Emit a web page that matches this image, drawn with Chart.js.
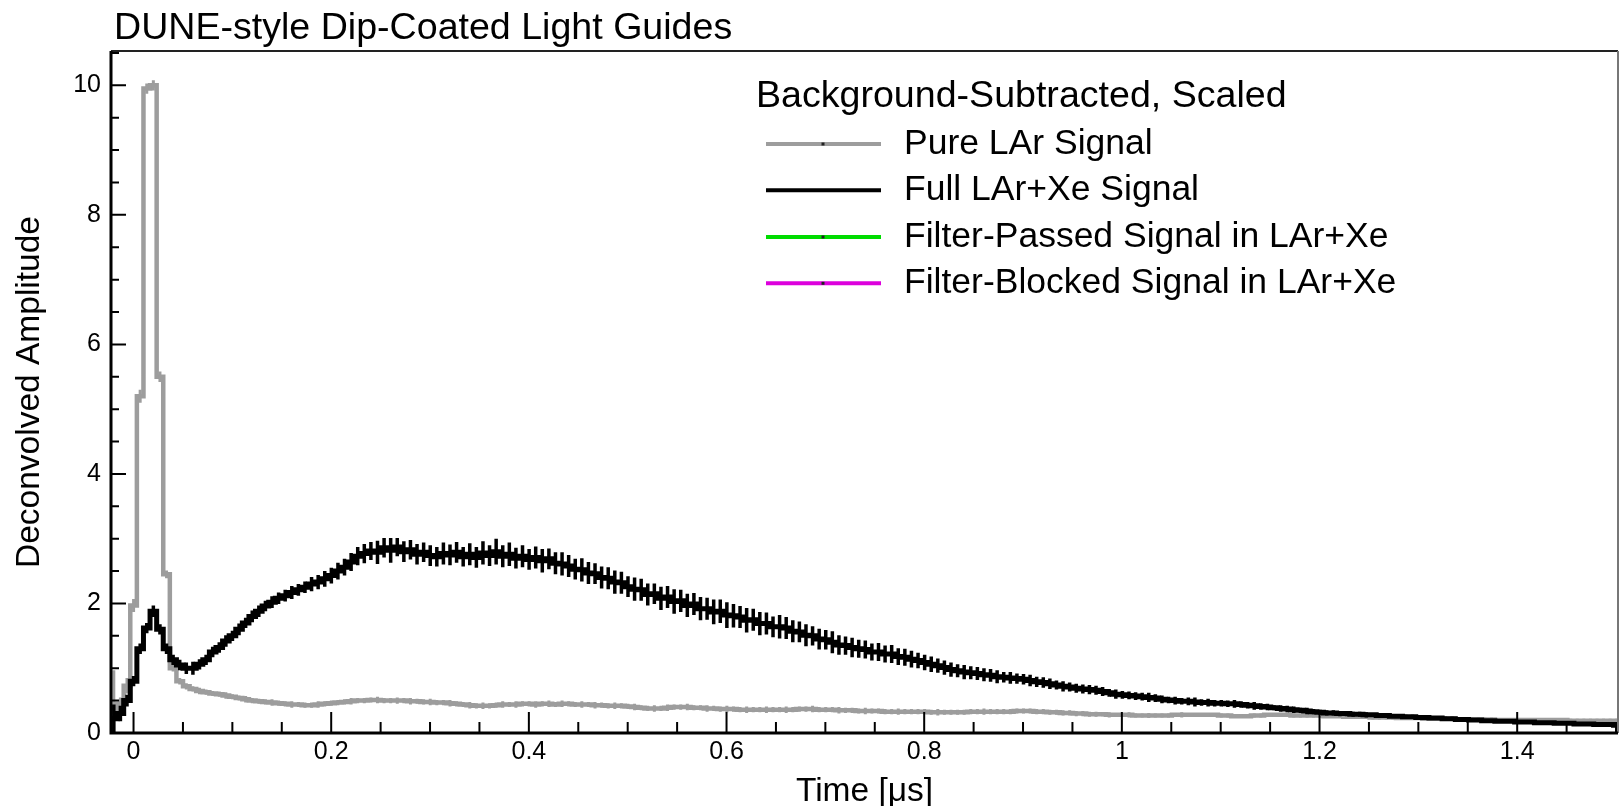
<!DOCTYPE html>
<html><head><meta charset="utf-8">
<script src="https://cdn.jsdelivr.net/npm/chart.js@4.4.1/dist/chart.umd.min.js"></script>
<style>html,body{margin:0;padding:0;background:#fff;}canvas{display:block;}</style>
</head><body>
<canvas id="c" width="1619" height="806" style="width:1619px;height:806px"></canvas>
<script>
// ---------------- data ----------------
const chartTitle = 'DUNE-style Dip-Coated Light Guides';
const legendHeader = 'Background-Subtracted, Scaled';
const xAxisTitle = 'Time [\u03bcs]';
const yAxisTitle = 'Deconvolved Amplitude';
const seriesLabels = ['Pure LAr Signal', 'Full LAr+Xe Signal', 'Filter-Passed Signal in LAr+Xe', 'Filter-Blocked Signal in LAr+Xe'];
const xTickValues = [0, 0.2, 0.4, 0.6, 0.8, 1, 1.2, 1.4];
const yTickValues = [0, 2, 4, 6, 8, 10];
const binLow = -0.0233;      // low edge of first bin [us]
const binWidth = 0.00667;    // bin width [us]

const grayValues = [
0.35,0.45,0.73,1.97,5.20,9.95,10.00,5.50,2.45,1.00,0.80,0.72,0.68,0.65,0.63,
0.61,0.60,0.58,0.56,0.54,0.52,0.50,0.49,0.48,0.47,0.46,0.45,0.44,0.44,0.43,
0.43,0.44,0.45,0.46,0.47,0.48,0.49,0.50,0.50,0.51,0.51,0.50,0.50,0.50,0.50,
0.49,0.49,0.48,0.48,0.47,0.47,0.46,0.45,0.44,0.43,0.42,0.42,0.42,0.43,0.44,
0.44,0.44,0.45,0.45,0.44,0.45,0.45,0.44,0.45,0.45,0.44,0.44,0.44,0.43,0.43,
0.42,0.42,0.42,0.41,0.40,0.39,0.38,0.38,0.38,0.39,0.40,0.40,0.40,0.39,0.39,
0.38,0.38,0.37,0.37,0.37,0.36,0.36,0.36,0.36,0.36,0.36,0.36,0.36,0.36,0.37,
0.37,0.37,0.36,0.36,0.36,0.35,0.35,0.35,0.34,0.34,0.34,0.34,0.33,0.33,0.33,
0.33,0.33,0.33,0.33,0.32,0.32,0.32,0.32,0.32,0.32,0.33,0.33,0.33,0.33,0.33,
0.33,0.33,0.34,0.34,0.34,0.33,0.33,0.32,0.32,0.31,0.31,0.30,0.30,0.29,0.29,
0.29,0.28,0.28,0.28,0.28,0.27,0.27,0.27,0.27,0.27,0.27,0.28,0.28,0.28,0.28,
0.28,0.28,0.28,0.27,0.27,0.26,0.26,0.26,0.27,0.27,0.28,0.28,0.28,0.28,0.27,
0.27,0.27,0.27,0.27,0.26,0.26,0.26,0.25,0.25,0.25,0.25,0.24,0.24,0.24,0.24,
0.23,0.23,0.23,0.23,0.22,0.22,0.22,0.22,0.22,0.21,0.21,0.21,0.21,0.21,0.21,
0.20,0.20,0.20,0.20,0.20,0.20,0.20,0.20,0.20,0.20,0.20,0.19,0.19,0.19,0.19,
0.19,0.19,0.19,0.19
];
const grayErrors = [
0.62,0.10,0.12,0.10,0.10,0.08,0.08,0.08,0.06,0.05,0.05,0.05,0.04,0.05,0.04,
0.04,0.04,0.05,0.04,0.04,0.05,0.04,0.04,0.04,0.05,0.04,0.04,0.05,0.04,0.04,
0.04,0.05,0.04,0.04,0.04,0.04,0.05,0.04,0.04,0.04,0.05,0.04,0.04,0.05,0.04,
0.05,0.04,0.04,0.05,0.04,0.04,0.05,0.04,0.04,0.05,0.04,0.05,0.04,0.04,0.05,
0.04,0.05,0.04,0.04,0.05,0.04,0.05,0.04,0.05,0.04,0.04,0.05,0.04,0.05,0.04,
0.04,0.05,0.04,0.04,0.05,0.04,0.04,0.05,0.04,0.05,0.04,0.04,0.05,0.04,0.04,
0.05,0.04,0.04,0.05,0.04,0.04,0.05,0.04,0.04,0.05,0.04,0.04,0.05,0.04,0.04,
0.04,0.05,0.04,0.04,0.04,0.05,0.04,0.04,0.04,0.05,0.04,0.04,0.04,0.04,0.05,
0.04,0.04,0.04,0.04,0.04,0.05,0.04,0.04,0.04,0.04,0.04,0.04,0.05,0.04,0.04,
0.04,0.04,0.04,0.04,0.04,0.04,0.04,0.04,0.04,0.04,0.04,0.04,0.04,0.04,0.04,
0.03,0.04,0.03,0.03,0.04,0.03,0.03,0.04,0.03,0.03,0.03,0.03,0.04,0.03,0.03,
0.03,0.03,0.03,0.03,0.03,0.03,0.03,0.03,0.03,0.03,0.03,0.03,0.03,0.03,0.03,
0.03,0.03,0.03,0.03,0.03,0.03,0.03,0.03,0.03,0.03,0.03,0.03,0.03,0.03,0.03,
0.03,0.03,0.03,0.03,0.03,0.03,0.03,0.03,0.03,0.03,0.03,0.03,0.03,0.03,0.03,
0.03,0.03,0.03,0.03,0.03,0.03,0.03,0.03,0.03,0.03,0.03,0.03,0.03,0.03,0.03,
0.03,0.03,0.03,0.03
];
const blackValues = [
0.22,0.30,0.50,0.80,1.30,1.62,1.88,1.60,1.30,1.13,1.05,1.00,1.00,1.06,1.13,
1.25,1.32,1.42,1.50,1.60,1.70,1.80,1.88,1.96,2.02,2.08,2.12,2.17,2.21,2.25,
2.30,2.33,2.38,2.43,2.50,2.56,2.64,2.73,2.77,2.81,2.79,2.86,2.82,2.87,2.80,
2.83,2.76,2.79,2.74,2.72,2.77,2.75,2.79,2.72,2.76,2.71,2.78,2.74,2.80,2.73,
2.76,2.70,2.73,2.68,2.71,2.66,2.69,2.62,2.61,2.58,2.53,2.52,2.47,2.46,2.40,
2.39,2.33,2.32,2.26,2.22,2.21,2.14,2.15,2.08,2.10,2.03,2.04,1.97,1.99,1.92,
1.92,1.87,1.88,1.82,1.81,1.79,1.74,1.75,1.69,1.69,1.64,1.64,1.62,1.57,1.56,
1.51,1.50,1.45,1.44,1.40,1.36,1.35,1.32,1.30,1.29,1.25,1.25,1.22,1.22,1.18,
1.17,1.14,1.12,1.09,1.06,1.04,1.01,0.98,0.96,0.94,0.93,0.92,0.90,0.89,0.87,
0.86,0.85,0.84,0.83,0.81,0.79,0.78,0.76,0.74,0.72,0.71,0.69,0.68,0.67,0.66,
0.64,0.62,0.60,0.59,0.58,0.57,0.56,0.55,0.54,0.52,0.51,0.50,0.49,0.49,0.48,
0.47,0.47,0.46,0.46,0.45,0.45,0.44,0.43,0.42,0.41,0.40,0.39,0.38,0.37,0.36,
0.35,0.34,0.33,0.32,0.31,0.31,0.30,0.30,0.29,0.29,0.28,0.28,0.27,0.27,0.26,
0.26,0.25,0.25,0.24,0.24,0.23,0.23,0.22,0.22,0.21,0.21,0.20,0.20,0.19,0.19,
0.18,0.18,0.18,0.17,0.17,0.17,0.16,0.16,0.16,0.15,0.15,0.15,0.14,0.14,0.14,
0.13,0.13,0.13,0.12
];
const blackErrors = [
0.22,0.12,0.09,0.08,0.08,0.08,0.09,0.08,0.08,0.08,0.08,0.09,0.10,0.08,0.08,
0.08,0.08,0.09,0.08,0.09,0.08,0.09,0.09,0.08,0.09,0.09,0.09,0.10,0.09,0.09,
0.11,0.11,0.12,0.12,0.13,0.13,0.14,0.14,0.15,0.14,0.18,0.15,0.19,0.14,0.16,
0.15,0.16,0.15,0.16,0.15,0.17,0.16,0.16,0.15,0.17,0.16,0.18,0.16,0.20,0.17,
0.18,0.16,0.17,0.16,0.17,0.18,0.16,0.17,0.18,0.17,0.16,0.18,0.17,0.16,0.17,
0.17,0.18,0.17,0.16,0.18,0.17,0.17,0.16,0.18,0.17,0.19,0.17,0.18,0.17,0.18,
0.17,0.19,0.18,0.20,0.18,0.17,0.19,0.17,0.18,0.17,0.16,0.18,0.17,0.17,0.16,
0.17,0.15,0.16,0.15,0.17,0.15,0.14,0.15,0.14,0.14,0.13,0.14,0.13,0.14,0.13,
0.13,0.13,0.12,0.12,0.12,0.11,0.11,0.11,0.10,0.11,0.10,0.10,0.10,0.10,0.10,
0.08,0.09,0.08,0.08,0.09,0.08,0.08,0.08,0.07,0.08,0.07,0.07,0.07,0.07,0.07,
0.07,0.06,0.07,0.06,0.06,0.06,0.06,0.07,0.06,0.06,0.05,0.06,0.05,0.06,0.07,
0.05,0.06,0.05,0.05,0.05,0.06,0.05,0.05,0.06,0.05,0.05,0.04,0.05,0.05,0.05,
0.04,0.05,0.04,0.04,0.04,0.04,0.04,0.04,0.04,0.04,0.04,0.03,0.04,0.03,0.03,
0.03,0.03,0.03,0.03,0.03,0.03,0.03,0.03,0.03,0.03,0.02,0.03,0.02,0.02,0.02,
0.02,0.02,0.02,0.02,0.02,0.02,0.02,0.02,0.02,0.02,0.02,0.02,0.02,0.02,0.02,
0.02,0.02,0.02,0.02
];
const filterPassedValues = [];
const filterBlockedValues = [];

// ---------------- helpers ----------------
// histogram outline: one point per bin low edge plus the final upper edge
function histPoints(values) {
  const pts = values.map((v, i) => ({ x: binLow + i * binWidth, y: v }));
  if (values.length) pts.push({ x: binLow + values.length * binWidth, y: values[values.length - 1] });
  return pts;
}

const FONT = "'Liberation Sans', Arial, Helvetica, sans-serif";
Chart.defaults.font.family = FONT;
Chart.defaults.color = '#000';

const errorBarPlugin = {
  id: 'errorBars',
  afterDatasetDraw(chart, args) {
    const ds = chart.data.datasets[args.index];
    if (!ds.errorValues || !ds.binValues) return;
    const { ctx, chartArea: a, scales: { x, y } } = chart;
    ctx.save();
    ctx.beginPath(); ctx.rect(a.left, a.top, a.right - a.left, a.bottom - a.top); ctx.clip();
    ctx.strokeStyle = ds.borderColor;
    ctx.lineWidth = ds.errorLineWidth;
    ctx.lineCap = 'butt';
    ctx.beginPath();
    ds.binValues.forEach((v, i) => {
      const e = ds.errorValues[i];
      const px = x.getPixelForValue(binLow + (i + 0.5) * binWidth);
      ctx.moveTo(px, y.getPixelForValue(v - e));
      ctx.lineTo(px, y.getPixelForValue(v + e));
    });
    ctx.stroke();
    ctx.restore();
  }
};

const framePlugin = {
  id: 'frame',
  afterDraw(chart) {
    const { ctx, chartArea: a, scales: { x, y } } = chart;
    ctx.save();
    ctx.strokeStyle = '#000';
    ctx.lineWidth = 2;
    ctx.beginPath();
    const xMinor = 0.05, xMajor = 0.2;
    for (let k = 0; ; k++) {
      const v = k * xMinor;
      if (v > x.max) break;
      const px = x.getPixelForValue(v);
      const major = (k % Math.round(xMajor / xMinor)) === 0;
      ctx.moveTo(px, a.bottom);
      ctx.lineTo(px, a.bottom - (major ? 21 : 11));
    }
    const yMinor = 0.5, yMajor = 2;
    for (let k = 0; ; k++) {
      const v = k * yMinor;
      if (v > y.max) break;
      const py = y.getPixelForValue(v);
      const major = (k % Math.round(yMajor / yMinor)) === 0;
      ctx.moveTo(a.left, py);
      ctx.lineTo(a.left + (major ? 15 : 8), py);
    }
    ctx.stroke();
    ctx.lineWidth = 2;
    ctx.strokeStyle = '#222';
    ctx.beginPath(); ctx.moveTo(a.left, a.top); ctx.lineTo(a.right, a.top); ctx.stroke();
    ctx.strokeStyle = '#777';
    ctx.beginPath(); ctx.moveTo(a.right, a.top); ctx.lineTo(a.right, a.bottom); ctx.stroke();
    ctx.lineWidth = 3;
    ctx.strokeStyle = '#000';
    ctx.beginPath(); ctx.moveTo(a.left, a.top); ctx.lineTo(a.left, a.bottom); ctx.lineTo(a.right, a.bottom); ctx.stroke();
    ctx.restore();
  }
};

const titleLegendPlugin = {
  id: 'titleLegend',
  afterDraw(chart) {
    const { ctx } = chart;
    ctx.save();
    ctx.fillStyle = '#000';
    ctx.textAlign = 'left';
    ctx.textBaseline = 'alphabetic';
    ctx.font = '37.6px ' + FONT;
    ctx.fillText(chartTitle, 114, 39);
    ctx.font = '37.6px ' + FONT;
    ctx.fillText(legendHeader, 756, 106.5);
    const rowY = [144, 190.3, 237, 283.3];
    ctx.font = '35.5px ' + FONT;
    chart.data.datasets.forEach((ds, i) => {
      const yy = rowY[i];
      ctx.strokeStyle = ds.borderColor;
      ctx.lineWidth = 4;
      ctx.beginPath(); ctx.moveTo(766, yy); ctx.lineTo(881, yy); ctx.stroke();
      if (ds.legendDot) { ctx.fillStyle = '#222'; ctx.fillRect(821.5, yy - 1.5, 3, 3); }
      ctx.fillStyle = '#000';
      ctx.fillText(ds.label, 904, yy + 10);
    });
    ctx.restore();
  }
};

new Chart(document.getElementById('c'), {
  type: 'line',
  data: {
    datasets: [
      { label: seriesLabels[0], data: histPoints(grayValues), binValues: grayValues, errorValues: grayErrors,
        borderColor: '#9d9d9d', borderWidth: 4.5, errorLineWidth: 3, stepped: 'before', pointRadius: 0, fill: false, order: 2, legendDot: true },
      { label: seriesLabels[1], data: histPoints(blackValues), binValues: blackValues, errorValues: blackErrors,
        borderColor: '#000000', borderWidth: 5, errorLineWidth: 3.5, stepped: 'before', pointRadius: 0, fill: false, order: 1, legendDot: false },
      { label: seriesLabels[2], data: histPoints(filterPassedValues), borderColor: 'rgb(0,220,0)', borderWidth: 4,
        stepped: 'before', pointRadius: 0, fill: false, order: 3, legendDot: true },
      { label: seriesLabels[3], data: histPoints(filterBlockedValues), borderColor: 'rgb(220,0,220)', borderWidth: 4,
        stepped: 'before', pointRadius: 0, fill: false, order: 4, legendDot: true }
    ]
  },
  options: {
    responsive: false,
    animation: false,
    events: [],
    layout: { padding: { top: 51, right: 1, left: 0, bottom: 0 } },
    plugins: { legend: { display: false }, title: { display: false }, tooltip: { enabled: false } },
    scales: {
      x: {
        type: 'linear', min: -0.0228, max: 1.502,
        afterBuildTicks: s => { s.ticks = xTickValues.map(v => ({ value: v })); },
        afterFit: s => { s.height = 73; s.paddingLeft = 0; s.paddingRight = 0; },
        grid: { display: false, drawTicks: false },
        border: { display: false },
        ticks: { font: { size: 25 }, color: '#000', padding: 4, maxRotation: 0, autoSkip: false,
                 callback: v => String(Math.round(v * 100) / 100) },
        title: { display: true, text: xAxisTitle, font: { size: 33.5, lineHeight: 0.85 }, color: '#000', padding: { top: 0, bottom: 0 } }
      },
      y: {
        type: 'linear', min: 0, max: 10.53,
        afterBuildTicks: s => { s.ticks = yTickValues.map(v => ({ value: v })); },
        afterFit: s => { s.width = 111; s.paddingTop = 0; s.paddingBottom = 0; },
        grid: { display: false, drawTicks: false },
        border: { display: false },
        ticks: { font: { size: 25 }, color: '#000', padding: 10, autoSkip: false,
                 callback: v => String(Math.round(v * 100) / 100) },
        title: { display: true, text: yAxisTitle, font: { size: 33.5, lineHeight: 1.2 }, color: '#000', padding: { top: 10, bottom: 0 } }
      }
    }
  },
  plugins: [errorBarPlugin, framePlugin, titleLegendPlugin]
});
</script>
</body></html>
